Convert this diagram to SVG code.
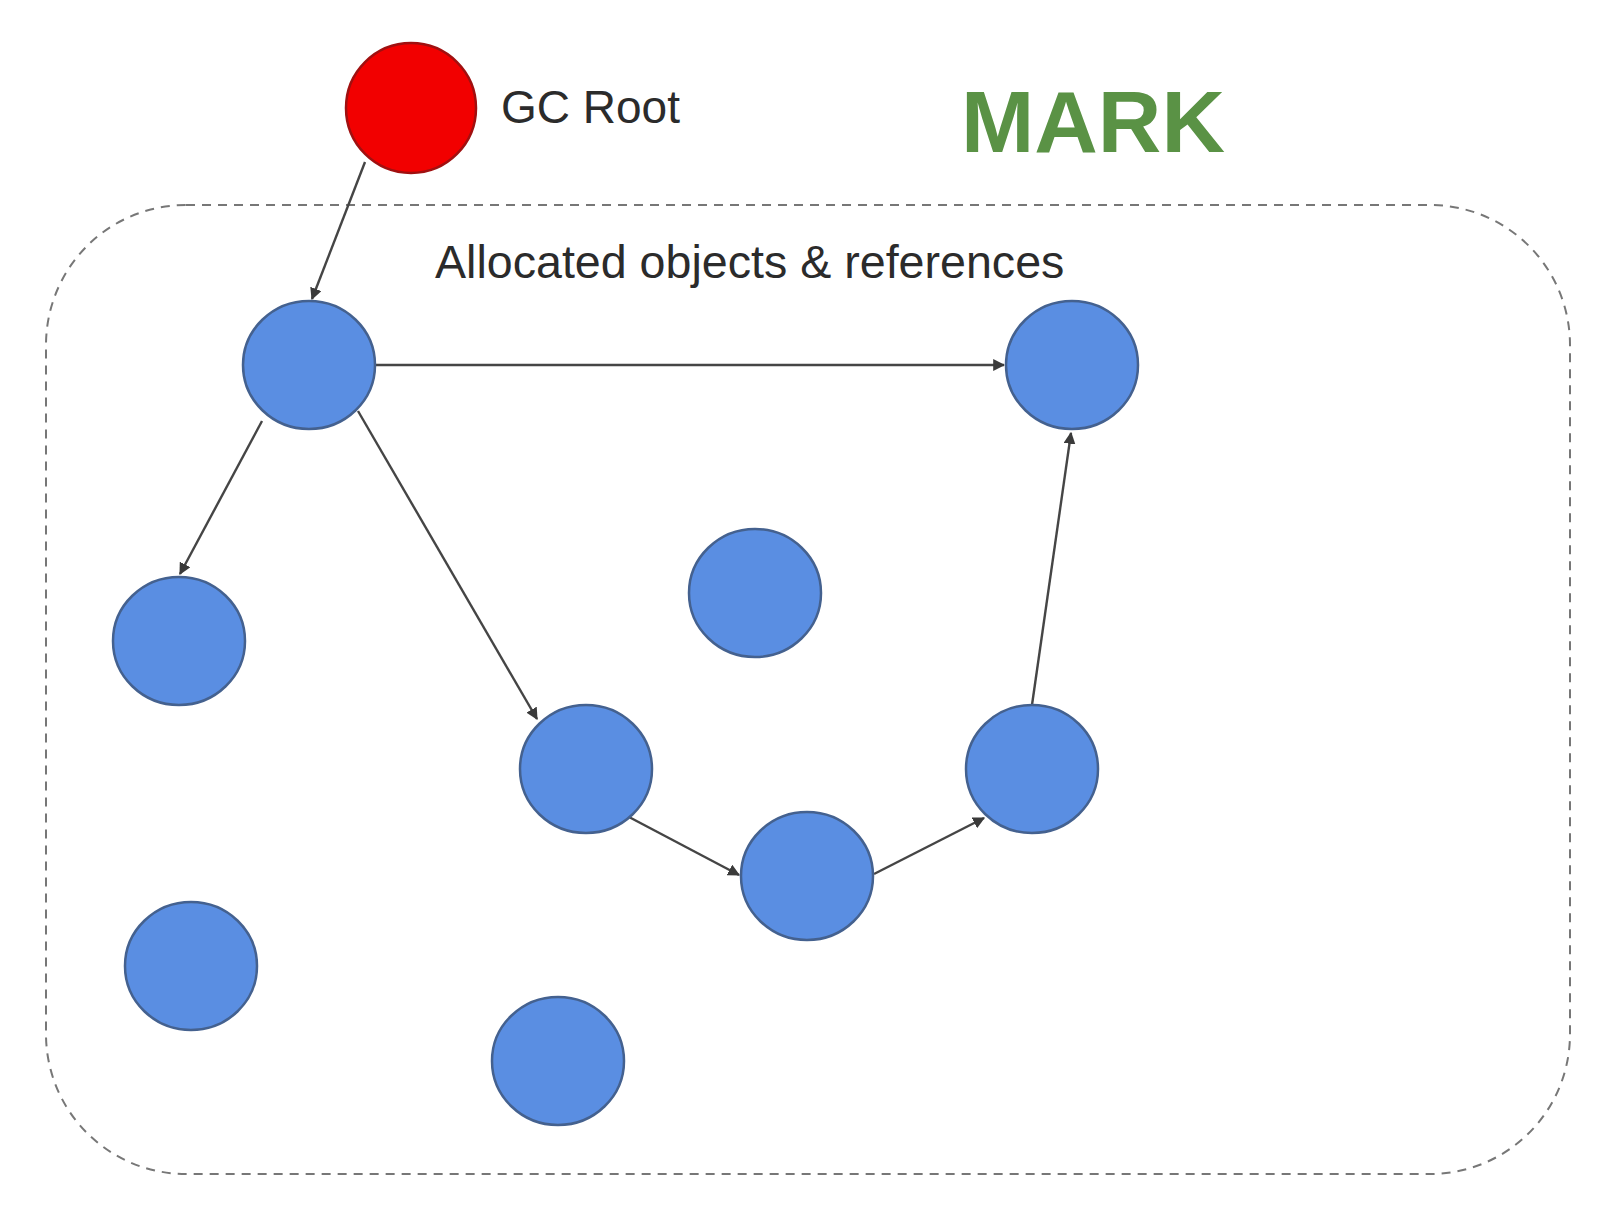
<svg xmlns="http://www.w3.org/2000/svg" width="1612" height="1216" viewBox="0 0 1612 1216">
<defs>
<style>
.obj{fill:#5a8ee2;stroke:#44618f;stroke-width:2.5}
.root{fill:#f20000;stroke:#a01010;stroke-width:2.5}
.edge{stroke:#454545;stroke-width:2.4;fill:none;marker-end:url(#ah)}
.lbl{font-family:"Liberation Sans",Arial,sans-serif;fill:#2b2b2b}
</style>
<marker id="ah" viewBox="0 0 10 10" refX="9" refY="5" markerWidth="5" markerHeight="5" orient="auto" markerUnits="strokeWidth">
<path d="M0,0 L10,5 L0,10 z" fill="#3a3a3a"/>
</marker>
</defs>
<rect width="1612" height="1216" fill="#ffffff"/>
<g id="heap">
<rect x="46" y="205" width="1524" height="969" rx="140" ry="140" fill="none" stroke="#777777" stroke-width="2" stroke-dasharray="9,7"/>
<text class="lbl" x="435" y="278" font-size="46.6">Allocated objects &amp; references</text>
</g>
<g id="title">
<text x="961" y="152" font-family="'Liberation Sans',Arial,sans-serif" font-weight="bold" font-size="88" fill="#5a9245">MARK</text>
</g>
<g id="connectors">
<line class="edge" x1="365" y1="162" x2="312" y2="299"/>
<line class="edge" x1="375" y1="365" x2="1004" y2="365"/>
<line class="edge" x1="262" y1="421" x2="180" y2="574"/>
<line class="edge" x1="358" y1="411" x2="537" y2="719"/>
<line class="edge" x1="629" y1="817" x2="739" y2="875"/>
<line class="edge" x1="874" y1="874" x2="984" y2="818"/>
<line class="edge" x1="1032" y1="705" x2="1071" y2="433"/>
</g>
<g id="gc-root">
<circle class="root" cx="411" cy="108" r="65"/>
<text class="lbl" x="501" y="123" font-size="46">GC Root</text>
</g>
<g id="obj-a"><ellipse class="obj" cx="309" cy="365" rx="66" ry="64"/></g>
<g id="obj-b"><ellipse class="obj" cx="1072" cy="365" rx="66" ry="64"/></g>
<g id="obj-c"><ellipse class="obj" cx="179" cy="641" rx="66" ry="64"/></g>
<g id="obj-d"><ellipse class="obj" cx="755" cy="593" rx="66" ry="64"/></g>
<g id="obj-e"><ellipse class="obj" cx="586" cy="769" rx="66" ry="64"/></g>
<g id="obj-f"><ellipse class="obj" cx="807" cy="876" rx="66" ry="64"/></g>
<g id="obj-g"><ellipse class="obj" cx="1032" cy="769" rx="66" ry="64"/></g>
<g id="obj-h"><ellipse class="obj" cx="191" cy="966" rx="66" ry="64"/></g>
<g id="obj-i"><ellipse class="obj" cx="558" cy="1061" rx="66" ry="64"/></g>
</svg>
